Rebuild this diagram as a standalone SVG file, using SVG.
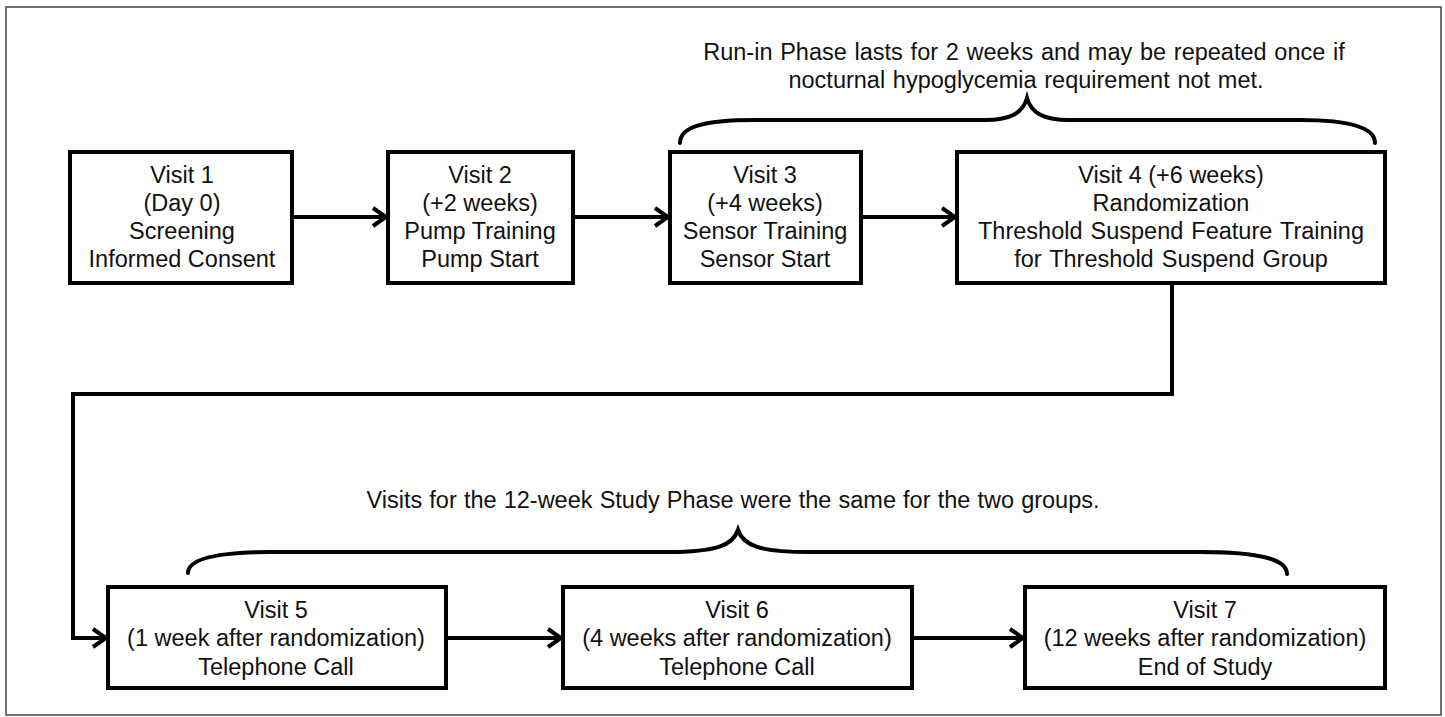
<svg xmlns="http://www.w3.org/2000/svg" width="1445" height="717" viewBox="0 0 1445 717">
<style>
.frame{fill:#fff;stroke:#444;stroke-width:1.5}
.box{fill:#fff;stroke:#000;stroke-width:4}
.t{font-family:"Liberation Sans",Arial,Helvetica,sans-serif;font-size:23.5px;fill:#111;text-anchor:middle}
.note{word-spacing:1.2px}
.conn{fill:none;stroke:#000;stroke-width:4;stroke-linejoin:miter}
.brace{fill:none;stroke:#000;stroke-width:4;stroke-linecap:round}
</style>
<defs>
<marker id="arr" viewBox="0 0 18 22" refX="15" refY="11" markerWidth="18" markerHeight="22" markerUnits="userSpaceOnUse" orient="auto">
<path d="M2,2 L15,11 L2,20" fill="none" stroke="#000" stroke-width="4" stroke-linejoin="miter"/>
</marker>
</defs>
<rect class="frame" x="6" y="7" width="1435" height="708"/>

<g id="annotations">
<text class="t note" x="1024" y="60">Run-in Phase lasts for 2 weeks and may be repeated once if</text>
<text class="t note" x="1026" y="88">nocturnal hypoglycemia requirement not met.</text>
<path class="brace" d="M680,143 C680,128 700,120 755,120 L985,120 C1012,120 1023,112 1027,98 C1031,112 1042,120 1069,120 L1300,120 C1352,120 1375,128 1375,143"/>
<text class="t" x="733" y="508" style="word-spacing:0.6px">Visits for the 12-week Study Phase were the same for the two groups.</text>
<path class="brace" d="M188,573 C188,560 212,552 272,552 L668,552 C717,552 733,545 738,530 C743,545 759,552 808,552 L1200,552 C1262,552 1287,560 1287,574"/>
</g>

<g id="connectors">
<line class="conn" x1="292" y1="217" x2="386" y2="217" marker-end="url(#arr)"/>
<line class="conn" x1="573" y1="217" x2="668" y2="217" marker-end="url(#arr)"/>
<line class="conn" x1="861" y1="217" x2="955" y2="217" marker-end="url(#arr)"/>
<path class="conn" d="M1172,283 V394 H73 V638 H106" marker-end="url(#arr)"/>
<line class="conn" x1="446" y1="638" x2="561" y2="638" marker-end="url(#arr)"/>
<line class="conn" x1="912" y1="638" x2="1023" y2="638" marker-end="url(#arr)"/>
</g>

<g id="visit1">
<rect class="box" x="70" y="152" width="222" height="131"/>
<text class="t" x="182" y="183">Visit 1</text>
<text class="t" x="182" y="211">(Day 0)</text>
<text class="t" x="182" y="239">Screening</text>
<text class="t" x="182" y="267">Informed Consent</text>
</g>
<g id="visit2">
<rect class="box" x="388" y="152" width="185" height="131"/>
<text class="t" x="480" y="183">Visit 2</text>
<text class="t" x="480" y="211">(+2 weeks)</text>
<text class="t" x="480" y="239">Pump Training</text>
<text class="t" x="480" y="267">Pump Start</text>
</g>
<g id="visit3">
<rect class="box" x="670" y="152" width="191" height="131"/>
<text class="t" x="765" y="183">Visit 3</text>
<text class="t" x="765" y="211">(+4 weeks)</text>
<text class="t" x="765" y="239">Sensor Training</text>
<text class="t" x="765" y="267">Sensor Start</text>
</g>
<g id="visit4">
<rect class="box" x="957" y="152" width="428" height="131"/>
<text class="t" x="1171" y="183">Visit 4 (+6 weeks)</text>
<text class="t" x="1171" y="211">Randomization</text>
<text class="t" x="1171" y="239" style="word-spacing:1.5px">Threshold Suspend Feature Training</text>
<text class="t" x="1171" y="267" style="word-spacing:1.5px">for Threshold Suspend Group</text>
</g>
<g id="visit5">
<rect class="box" x="108" y="587" width="338" height="101"/>
<text class="t" x="276" y="618">Visit 5</text>
<text class="t" x="276" y="646">(1 week after randomization)</text>
<text class="t" x="276" y="675">Telephone Call</text>
</g>
<g id="visit6">
<rect class="box" x="563" y="587" width="349" height="101"/>
<text class="t" x="737" y="618">Visit 6</text>
<text class="t" x="737" y="646">(4 weeks after randomization)</text>
<text class="t" x="737" y="675">Telephone Call</text>
</g>
<g id="visit7">
<rect class="box" x="1025" y="587" width="360" height="101"/>
<text class="t" x="1205" y="618">Visit 7</text>
<text class="t" x="1205" y="646">(12 weeks after randomization)</text>
<text class="t" x="1205" y="675">End of Study</text>
</g>
</svg>
